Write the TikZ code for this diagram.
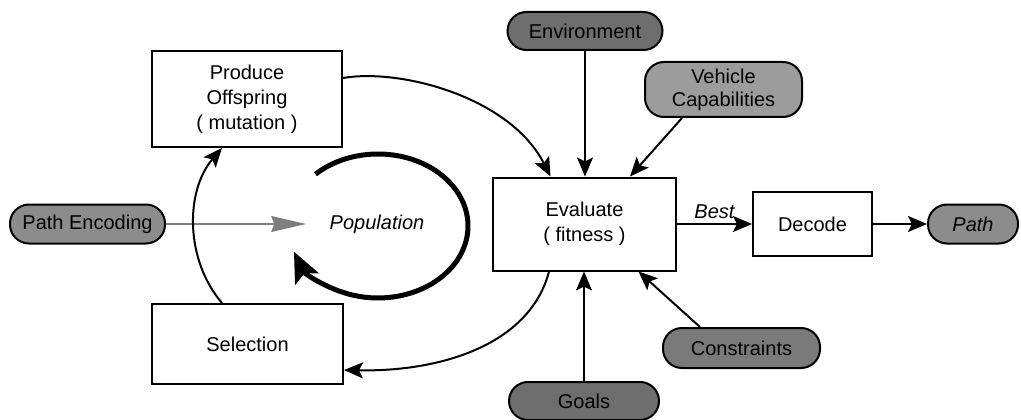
\documentclass[tikz,border=0pt]{standalone}
\usepackage{fontspec}
\setmainfont{Liberation Sans}
\usetikzlibrary{arrows.meta,calc}
\definecolor{pillgray}{HTML}{8C8C8C}
\definecolor{pilldark}{HTML}{6E6E6E}
\definecolor{pilllight}{HTML}{9C9C9C}
\definecolor{feedgray}{HTML}{7A7A7A}
\begin{document}
\begin{tikzpicture}[x=1pt,y=1pt,
  every node/.style={font=\fontsize{20}{25}\selectfont, align=center},
  stepbox/.style={draw, line width=2pt, inner sep=0pt},
  pill/.style={draw, line width=2pt, rounded corners=19pt, inner sep=0pt, fill=#1,
    font=\fontsize{20}{23}\selectfont},
  pill/.default=pillgray,
  flow/.style={line width=2pt, -{Stealth[length=19pt,width=16pt,inset=4pt]}},
]
\useasboundingbox (0,0) rectangle (1021,-420);

% process boxes
\node[stepbox, minimum width=190pt, minimum height=96pt] (offspring) at (247,-99) {Produce\\Offspring\\( mutation )};
\node[stepbox, minimum width=191pt, minimum height=80pt] (selection) at (247.5,-344) {Selection};
\node[stepbox, minimum width=183pt, minimum height=93pt] (evaluate) at (584.5,-224) {Evaluate\\( fitness )};
\node[stepbox, minimum width=119pt, minimum height=64pt] (decode) at (812.5,-224) {Decode};

% inputs and output
\node[pill, minimum width=155pt, minimum height=39pt] (encoding) at (87.5,-224) {Path Encoding};
\node[pill=pilldark, minimum width=155pt, minimum height=38pt] (environment) at (585,-31) {Environment};
\node[pill=pilllight, minimum width=157pt, minimum height=55pt] (vehicle) at (723.5,-89.5) {Vehicle\\Capabilities};
\node[pill=feedgray, minimum width=157pt, minimum height=40pt] (constraints) at (741.5,-348) {Constraints};
\node[pill=pilldark, minimum width=150pt, minimum height=38pt] (goals) at (584,-401) {Goals};
\node[pill, minimum width=90pt, minimum height=39pt] (path) at (973,-224) {\itshape Path};

\node (population) at (377,-224) {\itshape Population};

% population cycle
\draw[line width=5pt, -{Stealth[length=30pt,width=26pt,inset=6pt]}]
  ($(population)+(1,-2)+(134:90 and 72)$) arc[start angle=134, end angle=-159, x radius=90, y radius=72];

% encoding feeds the population
\draw[gray, line width=1.3pt, -{Stealth[length=35pt,width=16pt,inset=3pt,fill=gray]}]
  (encoding) -- ([xshift=-20pt]population.west);

% evolution loop
\draw[flow] ([yshift=21pt]offspring.east) .. controls +(58,10) and +(-40,79) .. ([xshift=-34pt]evaluate.north);
\draw[flow] ([xshift=-35.5pt]evaluate.south) .. controls +(-19,-73) and +(97,-2) .. ([yshift=-26pt]selection.east);
\draw[flow] ([xshift=-25.5pt]selection.north) .. controls +(-37,43) and +(-37,-43) .. ([xshift=-25pt]offspring.south);

% evaluation inputs
\draw[flow] (environment) -- (environment |- evaluate.north);
\draw[flow] ([xshift=-41.5pt]vehicle.south) -- ([xshift=45.5pt]evaluate.north);
\draw[flow] (goals) -- (goals |- evaluate.south);
\draw[flow] ([xshift=-41.5pt]constraints.north) -- ([xshift=54pt]evaluate.south);

% result
\draw[flow] (evaluate) -- node[above, inner sep=4pt] {\itshape Best} (decode);
\draw[flow] (decode) -- (path);
\end{tikzpicture}
\end{document}
